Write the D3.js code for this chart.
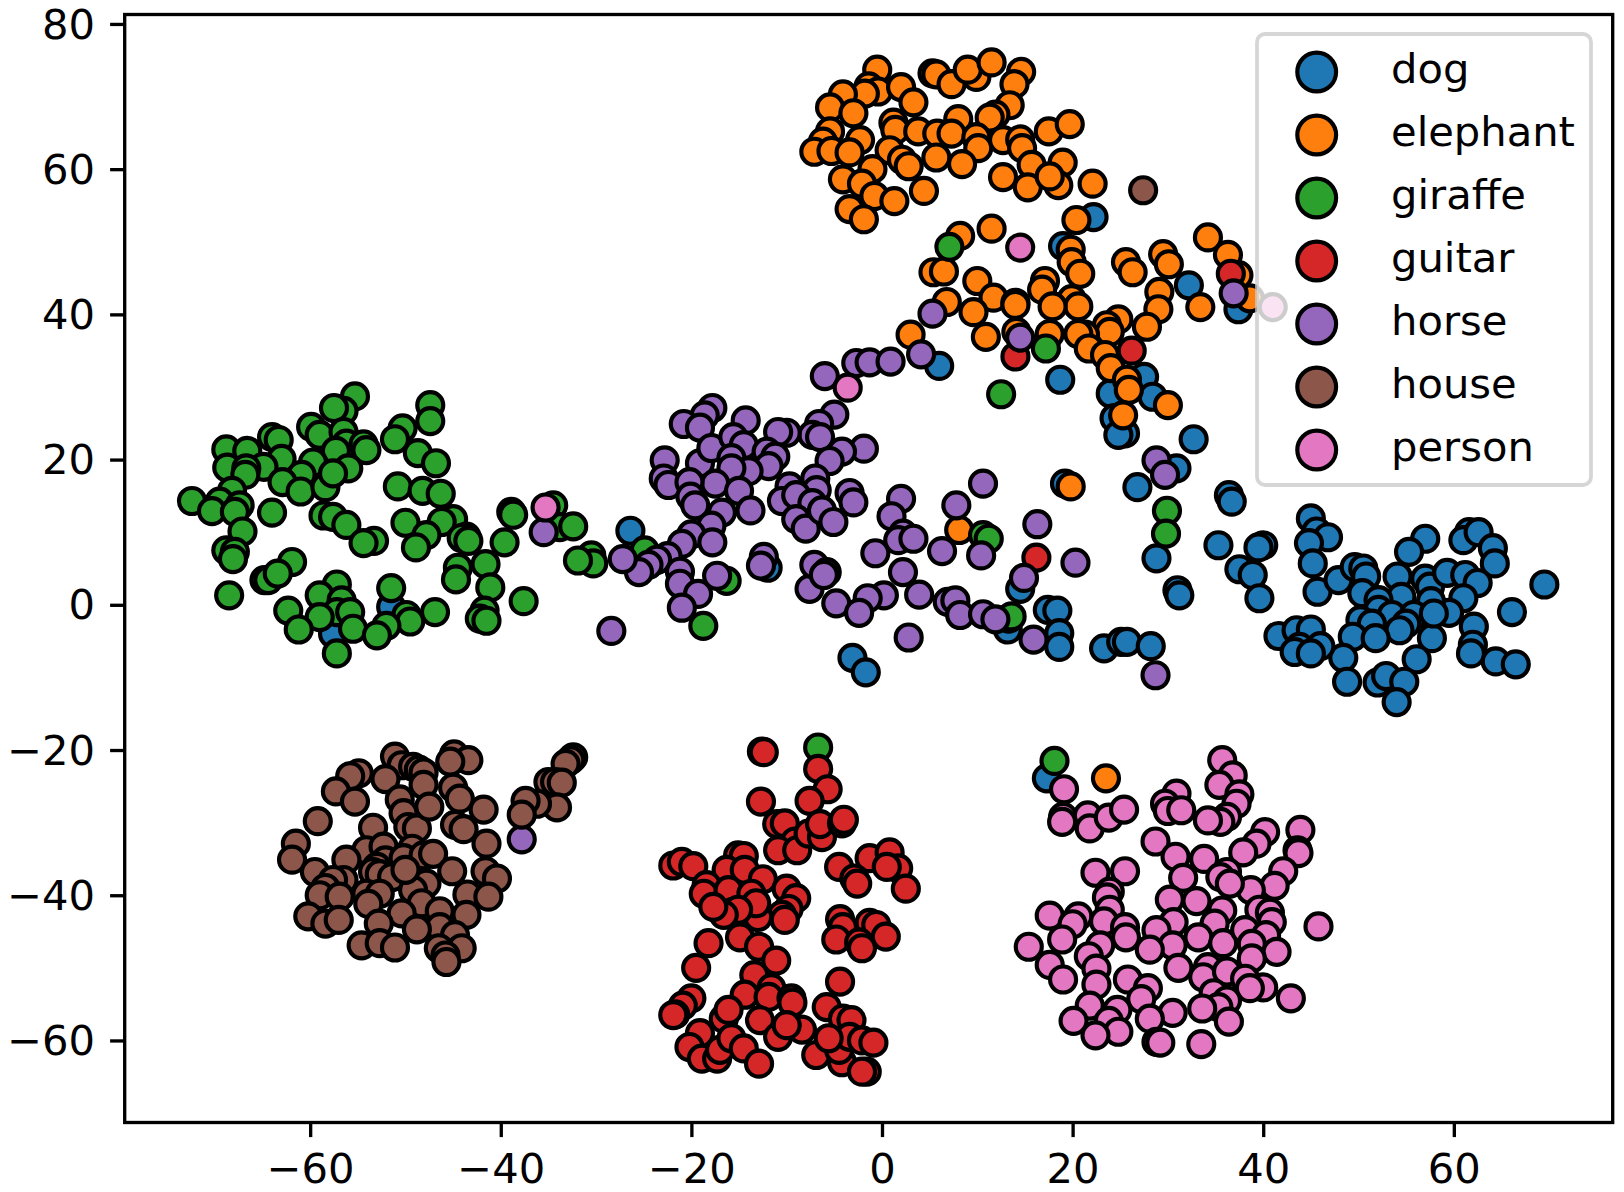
<!DOCTYPE html>
<html>
<head>
<meta charset="utf-8">
<script src="https://cdn.jsdelivr.net/npm/d3@7/dist/d3.min.js"></script>
<style>
	html, body { margin: 0; padding: 0; background: #fff; }
	svg { display: block; font-family: "DejaVu Sans", sans-serif; }
</style>
</head>
<body>
<svg id="chart" width="1624" height="1192"></svg>
<script>
"use strict"

var categories = ["dog", "elephant", "giraffe", "guitar", "horse", "house", "person"];
var colours = ["#1f77b4", "#ff7f0e", "#2ca02c", "#d62728", "#9467bd", "#8c564b", "#e377c2"];
var xTicks = [-60, -40, -20, 0, 20, 40, 60];
var yTicks = [-60, -40, -20, 0, 20, 40, 60, 80];

// [x, y], one list per class
var dog = [[22.2,53.4],[19,49.4],[32.2,44],[37.4,40.7],[27.5,31.4],[18.7,31],[28.4,28.65],[24,29.1],[24.4,25.7],[25.5,23.6],[24.8,23.4],
	[32.7,22.8],[30.9,18.8],[26.8,16.2],[36.4,15.1],[36.7,14.2],[19.2,16.7],[45,11.9],[45.6,10.1],[46.8,9.3],[44.8,8.5],[45.2,5.7],[45.7,1.8],
	[57,9.1],[55.3,7.3],[35.3,8.2],[40,8.2],[39.5,7.9],[28.8,6.4],[37.5,4.9],[38.9,4.1],[39.6,0.9],[31,2],[31.2,1.3],[69.5,2.8],[66.1,-1],
	[61.6,10],[61,8.9],[62.6,10],[64.1,7.8],[64.3,5.7],[47.9,3.4],[49.6,5.2],[50.5,5],[50.8,3.9],[50.4,1.6],[54.1,3.9],[57,3.6],[57.5,2.5],
	[59.3,4.4],[61.2,4.1],[62.5,3],[61,0.9],[59.5,-1.1],[57.6,0.5],[54.5,1.1],[52.1,0.65],[52.1,-0.7],[53.5,-1.4],[55.8,-1.4],[55,-2.6],[54.3,-3.5],
	[50.2,-2.1],[51.4,-2.6],[49.4,-4.4],[51.8,-4.6],[57.7,-4.6],[57.9,-1.2],[62.1,-3],[62,-5.5],[61.8,-6.7],[64.4,-7.8],[66.5,-8.2],[56.1,-7.5],
	[48.4,-7.3],[48.8,-10.6],[52,-10.7],[52.9,-9.8],[54.8,-10.6],[54,-13.4],[41.6,-4.3],[43.5,-3.5],[45,-3.4],[46,-5.7],[43.8,-5.8],[43.3,-6.5],[45,-6.7],
	[17.4,-0.7],[18.4,-0.8],[18.6,-3.9],[18.6,-5.8],[13.2,-3.4],[23.3,-6],[25.1,-5.1],[25.7,-5.1],[28.2,-5.7],[14.5,2.2],
	[-57.6,-4],[-51.5,-0.3],[-26.4,10.2],[-3.1,-7.3],[-1.7,-9.3],[6,32.9],[17.3,-23.9],[-12,5.1]];
var elephant = [[-0.5,73.7],[-1.4,71.4],[-0.4,70.7],[-1.8,70.4],[-4.1,70.3],[-5.45,68.5],[-3,67.7],[2,71.3],[3.3,69.2],[5.3,73.2],[5.7,73.05],[7.3,71.7],
	[9.9,72.7],[9,73.7],[11.5,74.7],[14.6,73.4],[13.9,71.7],[13.4,68.8],[11.9,67.5],[11.3,67.1],[8,66.9],[1.2,66.4],[1.4,65.4],[3.8,65.2],[5.8,64.9],
	[7.3,64.9],[9.9,64.4],[10.1,62.9],[12.7,64],[14.5,64.1],[14.7,62.9],[17.5,65.2],[19.7,66.2],[-5.45,65.2],[-6.2,63.8],[-2.3,64],[-7.1,62.4],[-5.3,62.5],
	[-3.4,62.3],[0.8,62.6],[2.1,61.3],[2.8,60.4],[5.7,61.6],[8.4,60.7],[15.7,60.6],[18.96,60.9],[12.7,58.9],[15.3,57.5],[18.5,57.8],[17.6,59],[22.1,58],
	[-1,60],[-4.1,58.6],[-2.1,58],[-0.8,56.3],[1.3,55.6],[4.4,57],[-3.4,54.5],[-1.9,53.1],[20.4,53],[8.2,50.8],[11.5,51.8],[19.8,48.9],[19.9,47.2],[20.8,45.6],
	[25.6,47.2],[26.3,45.8],[29.5,48.3],[30.1,46.9],[34.2,50.6],[36.3,48.2],[37.4,45.4],[38.6,42.2],[5.4,45.8],[6.5,45.9],[10,44.6],[11.7,42.3],[17.1,44.6],
	[16.8,43.4],[19.9,42.1],[20.6,41.1],[17.9,41.1],[14,41.6],[14,41.3],[6.8,41.7],[9.6,40.3],[10.9,36.9],[3,37.2],[29.1,43.1],[29,40.7],[33.4,41],[27.8,38.3],
	[24.8,39.3],[23.6,38.5],[23.9,37.6],[21.3,37.2],[20.6,37.3],[14.1,37.6],[17.6,37.3],[21.7,35.3],[23.4,34.4],[24,32.6],[25.7,31],[25.9,29.6],[30,27.5],
	[25.3,26.1],[19.8,16.3],[8.1,10.3],[23.5,-23.9]];
var giraffe = [[-55.3,28.7],[-56.5,26.7],[-57.5,27.1],[-47.4,27.5],[-47.4,25.3],[-50.3,24.3],[-51.1,22.8],[-59.9,24.5],[-59,23.4],[-56.5,23.8],[-64,23.1],[-63.3,22.7],
	[-68.8,21.4],[-66.6,21.2],[-63,20.1],[-64.9,19],[-68.7,18.9],[-66.7,18.8],[-66.8,17.9],[-56.2,22.2],[-54.4,22.1],[-54.1,21.3],[-57.3,21.2],[-59.7,19.6],
	[-56,18.8],[-48.7,20.9],[-46.8,19.5],[-60.9,17.9],[-62.9,16.9],[-61,15.6],[-58.4,16.2],[-57.6,18.1],[-50.8,16.3],[-48.2,15.7],[-46.3,15.3],[-68.2,15.7],
	[-69.5,14.2],[-72.4,14.3],[-70.3,12.9],[-67.4,13.7],[-67.9,12.8],[-64,12.7],[-67.1,10.1],[-58.6,12.3],[-57.6,12.1],[-56.2,11],[-53.3,8.8],[-54.4,8.5],
	[-50,11.3],[-45,11.8],[-46.2,11.4],[-47.8,9.6],[-48.9,7.9],[-43.6,9.4],[-44.1,9.2],[-43.4,8.8],[-38.9,12.8],[-38.7,12.4],[-39.6,8.6],[-41.6,5.6],[-44.5,5.1],
	[-44.7,3.5],[-41.1,2.4],[-37.6,0.5],[-41.7,-0.8],[-42.2,-1.9],[-41.5,-2.2],[-68.8,7.5],[-67.9,7.3],[-68.1,6.3],[-68.5,1.3],[-61.9,5.9],[-64.8,3.4],[-64.4,3.4],
	[-63.4,4.3],[-57.2,2.8],[-59,1.3],[-56.7,0.6],[-57.2,-1],[-59,-1.7],[-55.8,-1],[-62.3,-0.8],[-61.2,-3.4],[-55.5,-3.3],[-51.5,2.3],[-49.9,-1.4],[-49.5,-2.3],
	[-46.9,-1],[-52,-2.9],[-53,-4.2],[-57.2,-6.7],[-34.5,13.7],[-33.8,10.7],[-32.4,10.8],[-30.5,6.8],[-30.3,5.7],[-31.9,6.1],[-24.9,7.5],[-16.3,3.3],[-18.75,-2.9],
	[12.5,29],[17.2,35.3],[10.6,9.6],[11.2,9.1],[13.3,-1.9],[13.6,-1.6],[7.07,49.3],[29.9,12.95],[29.8,9.8],[18.1,-21.5],[-6.7,-19.65]];
var guitar = [[26.2,35],[14,34.2],[36.6,45.6],[16.2,6.5],[-12.6,-20.2],[-12.4,-20.3],[-6.7,-22.6],[-5.7,-25.4],[-7.6,-27],[-12.7,-27.1],[-11,-30.2],[-10.2,-30.1],[-9.1,-32.6],
	[-10.9,-33.8],[-8.9,-33.8],[-7.7,-31.5],[-6.3,-32],[-6.5,-30.2],[-4.2,-30.1],[-4,-29.6],[-21.9,-35.9],[-21,-35.4],[-19.8,-36],[-15.1,-34.5],[-14.5,-34.6],[-16.3,-36.5],
	[-14.4,-36.5],[-12.5,-37.8],[-18.4,-38.6],[-18.7,-39.8],[-16.1,-39.3],[-13.7,-39.8],[-10,-39.1],[-9,-40.4],[-9.8,-41.9],[-10.5,-42.7],[-10.2,-43.4],[-13,-43],[-13.2,-41.1],
	[-15.6,-42.3],[-15.1,-42],[-16.6,-42.7],[-17.7,-41.6],[-4.5,-36.1],[-1.3,-34.9],[0.8,-34.1],[1.7,-36.3],[0.5,-36.1],[2.5,-39.1],[-2.9,-37.7],[-2.6,-38.4],[-4.4,-43.3],
	[-4.1,-44.4],[-4.8,-46.1],[-1.3,-43.8],[-0.6,-44.1],[0.4,-45.7],[-2.4,-46.5],[-2.1,-47.3],[-14.9,-45.8],[-12.9,-47.1],[-11.1,-49],[-18.2,-46.6],[-19.5,-50],[-13.4,-51],
	[-11.6,-52.8],[-4.4,-51.9],[-14.4,-53.7],[-11.9,-54],[-9.5,-54.2],[-9.4,-54.8],[-20,-54.2],[-20.9,-55.2],[-21.7,-56.4],[-21.9,-56.5],[-5.8,-55.4],[-4.1,-57],[-3.2,-57.2],
	[-16.6,-57],[-16.1,-55.8],[-12.8,-57.2],[-10.9,-59.5],[-8.4,-58.5],[-10,-57.9],[-19.1,-59],[-20.2,-60.9],[-18.9,-62.5],[-17.3,-62.5],[-17,-61.3],[-15.8,-59.7],[-14.5,-61.1],
	[-12.9,-63.2],[-6.9,-62],[-4.2,-63],[-4.5,-61.3],[-3.4,-59.5],[-2.1,-60],[-0.9,-60.3],[-5.6,-59.7],[-1.6,-64.3],[-2.1,-64.3]];
var horse = [[-6,31.5],[-2.7,33.3],[-1.3,33.4],[0.9,33.5],[4.1,34.5],[5.3,40.1],[14.5,36.8],[36.9,42.9],[-5,26.2],[-6.6,24.9],[-7.3,23.4],[-6.5,23.1],[-1.9,21.5],[-4.2,21.1],
	[-5.5,19.8],[-10,23.7],[-10.9,23.8],[-14.3,25.4],[-17.8,27.1],[-18.6,26.1],[-20.8,24.9],[-19.1,24.4],[-22.8,19.9],[-22.9,17.4],[-22.4,16.5],[-19.1,19.5],[-17.9,21.6],
	[-15.6,23.1],[-14.5,22],[-15.8,20.2],[-12.1,21.1],[-11.2,20.4],[-11.9,19.1],[-14,18.4],[-15.8,18.8],[-17.5,16.7],[-20.2,16.9],[-20.1,14.9],[-19.6,13.7],[-15,15.7],[-13.8,13],
	[-16.8,12.7],[-17.9,10.9],[-20,9.7],[-21,8.4],[-17.8,8.6],[-22.5,6.7],[-23.6,6.2],[-24.5,5.5],[-25.5,4.5],[-27.2,6.3],[-21.2,4.55],[-21.2,2.9],[-19.3,1.5],[-17.3,4],[-21,-0.4],
	[-28.4,-3.6],[-9.7,16.3],[-7,17.4],[-6.85,15.8],[-10.5,14.3],[-9,15.1],[-7.3,14],[-9,11.8],[-8,10.5],[-6.3,13],[-5.1,11.4],[-3.4,15.4],[-3,14.1],[2,14.6],[1,12.2],[2.2,9.8],
	[1.7,8.9],[3.3,9.1],[-0.7,7.1],[6.3,7.4],[7.8,13.7],[10.6,16.7],[10.4,6.8],[16.3,11.1],[20.3,5.8],[14.9,3.7],[2.2,4.5],[3.9,1.4],[0.2,1.3],[-1.5,0.9],[-4.8,0.2],[-2.4,-1.1],
	[-7.6,2.2],[-7.1,5.5],[-5.8,4.5],[-6.1,4.1],[6.9,0.4],[7.7,0.6],[8.2,-1.4],[10.6,-1.3],[11.9,-2],[15.9,-4.8],[2.8,-4.5],[28.8,19.9],[29.7,17.9],[28.7,-9.7],[-37.8,-32.3],
	[-35.5,10],[-12.4,6.6],[-12.7,5.4]];
var house = [[27.4,57.1],[-51.1,-20.9],[-50.4,-22.1],[-49.2,-22.3],[-48.6,-22.7],[-48.1,-23.1],[-48.1,-24.8],[-44.9,-20.6],[-43.4,-21.4],[-45.3,-21.6],[-54.9,-23.2],[-55.8,-23.6],
	[-57.3,-25.7],[-55.3,-27.1],[-52.1,-24],[-50.6,-26.8],[-50.2,-28.7],[-49.7,-30.6],[-48.8,-30.8],[-47.5,-27.8],[-45,-25.2],[-44.3,-26.7],[-41.8,-28.2],[-44.8,-30.3],[-43.9,-30.9],
	[-41.5,-32.9],[-59.2,-29.8],[-61.5,-32.9],[-61.9,-35.1],[-59.5,-36.8],[-53.4,-30.7],[-54.1,-33.8],[-52.3,-33.3],[-52.1,-35.2],[-56.2,-35.1],[-53,-36.1],[-53.4,-36.8],[-52.7,-37.1],
	[-51.4,-37.5],[-49.3,-33.6],[-50.2,-34.9],[-48.1,-34.5],[-47.1,-34.3],[-45.1,-36.7],[-41.6,-36.7],[-40.4,-37.7],[-47.8,-38.4],[-49.2,-39.3],[-50,-36.5],[-56.5,-37.9],[-57.6,-37.9],
	[-58.4,-39],[-59,-40],[-56.9,-40.2],[-54.1,-39.8],[-52.7,-39.8],[-53.9,-41.2],[-43.5,-39.9],[-41.3,-40.2],[-43.6,-42.7],[-48.3,-41.1],[-46.4,-42.2],[-50.4,-42.5],[-46.4,-44.4],
	[-60.2,-42.9],[-58.4,-43.9],[-57,-43.4],[-52.8,-43.9],[-48.8,-44.7],[-54.6,-46.9],[-52.7,-46.6],[-51.1,-47.2],[-44.8,-45.5],[-44.1,-47.3],[-46.5,-47.3],[-45.8,-48.3],[-45.7,-49.2],
	[-32.4,-21],[-32.7,-21.4],[-33.2,-21.9],[-35,-24.4],[-34.3,-24.4],[-33.6,-24.5],[-34.1,-27.9],[-36.2,-27.4],[-37.4,-27],[-37.8,-28.9]];
var person = [[14.5,49.2],[41,41],[-3.6,29.9],[-35.3,13.4],[35.7,-21.4],[36.8,-23.5],[35.4,-24.8],[37.5,-26.1],[37.2,-27.4],[36.2,-29.2],[35.5,-29.9],[34.2,-29.7],[30.9,-26],[29.7,-27.4],
	[30,-28.4],[31.4,-28.3],[19.1,-25.4],[19,-29.2],[18.9,-29.9],[21.6,-29],[21.8,-30.8],[23.8,-29.3],[25.4,-28.2],[28.7,-32.6],[30.8,-34.7],[33.8,-35],[31.6,-37.6],[40.2,-31.3],[39.3,-32.9],
	[37.9,-34.1],[43.9,-31],[43.6,-33.8],[43.7,-34.2],[42.1,-36.7],[41.2,-38.7],[38.7,-39.3],[36.2,-36.8],[35.5,-37.5],[36.5,-38.4],[22.4,-36.9],[25.5,-36.7],[23.9,-39.5],[23.6,-40.3],[23.9,-42],
	[30.2,-40.6],[33,-40.8],[35.7,-42.1],[39.6,-42],[40.7,-42.4],[40.9,-43.7],[45.8,-44.3],[17.6,-42.8],[20.6,-42.9],[20,-44],[23.3,-43.6],[25.5,-44.4],[25.6,-45.8],[18.9,-46.1],[22.9,-46.9],
	[30.6,-43.7],[28.8,-44.8],[34.9,-43.9],[33.2,-45.8],[35.8,-46.6],[38.1,-44.8],[40.3,-45.5],[38.8,-46.7],[41.4,-47.8],[30.5,-46.9],[28.1,-47.5],[15.4,-47.1],[17.6,-49.6],[21.7,-48.4],[22.5,-50.1],
	[31.1,-50],[34.2,-49.9],[33.7,-51.3],[36.2,-50.5],[38.8,-48.7],[19,-51.6],[22.5,-52.3],[25.8,-51.6],[27.9,-52.8],[27.2,-54.3],[38.1,-51.5],[40,-52.7],[38.6,-52.8],[42.9,-54.2],[34.8,-53.5],
	[36.2,-54.5],[35.3,-55.4],[33.6,-55.6],[36.4,-57.4],[21.8,-55.2],[30.5,-56.2],[28.1,-57],[24.7,-55.8],[20.1,-57.3],[23.8,-57.3],[24.8,-58.8],[22.4,-59.3],[28.8,-60.2],[29.2,-60.3],[33.5,-60.5]];
var classPoints = [dog, elephant, giraffe, guitar, horse, house, person];

var left = 124.7, right = 1612.7, top_ = 14.5, bottom = 1122.5;
var fontSize = 41.67;

var x = d3.scaleLinear().domain([-79.46, 76.67]).range([left, right]);
var y = d3.scaleLinear().domain([-71.3, 81.3]).range([bottom, top_]);

var svg = d3.select("#chart");

// same minus sign as the reference
var fmt = function(d) { return String(d).replace("-", "\u2212"); };

var xAxis = svg.append("g")
	.attr("transform", "translate(0," + bottom + ")")
	.call(d3.axisBottom(x).tickValues(xTicks).tickFormat(fmt).tickSize(14.6).tickPadding(16));
var yAxis = svg.append("g")
	.attr("transform", "translate(" + left + ",0)")
	.call(d3.axisLeft(y).tickValues(yTicks).tickFormat(fmt).tickSize(14.6).tickPadding(15));
[xAxis, yAxis].forEach(function(a) {
	a.select(".domain").remove();
	a.selectAll("line").attr("stroke", "#000").attr("stroke-width", 3.33);
	a.selectAll("text").attr("fill", "#000").style("font-size", fontSize + "px").style("font-family", '"DejaVu Sans"');
});
yAxis.selectAll("text").attr("dy", "0.34em");

// one group per class, drawn in class order so later classes sit on top
classPoints.forEach(function(pts, i) {
	svg.append("g").selectAll("circle")
		.data(pts)
		.enter().append("circle")
		.attr("cx", function(d) { return x(d[0]); })
		.attr("cy", function(d) { return y(d[1]); })
		.attr("r", 13)
		.attr("fill", colours[i])
		.attr("stroke", "#000")
		.attr("stroke-width", 4.17);
});

svg.append("rect")
	.attr("x", left).attr("y", top_)
	.attr("width", right - left).attr("height", bottom - top_)
	.attr("fill", "none").attr("stroke", "#000").attr("stroke-width", 3.33);

// legend
var legendLeft = 1257, legendTop = 34, legendWidth = 334, legendHeight = 451;
var legend = svg.append("g");
legend.append("rect")
	.attr("x", legendLeft).attr("y", legendTop)
	.attr("width", legendWidth).attr("height", legendHeight)
	.attr("rx", 8).attr("ry", 8)
	.attr("fill", "#fff").attr("fill-opacity", 0.8)
	.attr("stroke", "#ccc").attr("stroke-opacity", 0.8).attr("stroke-width", 3.8);

var rowY = d3.scalePoint().domain(categories).range([72, 450]);
categories.forEach(function(name, i) {
	legend.append("circle")
		.attr("cx", 1316.7)
		.attr("cy", rowY(name))
		.attr("r", 19.4)
		.attr("fill", colours[i])
		.attr("stroke", "#000")
		.attr("stroke-width", 4.17);
	legend.append("text")
		.attr("x", 1391)
		.attr("y", rowY(name) + 11)
		.attr("fill", "#000")
		.style("font-size", fontSize + "px")
		.text(name);
});
</script>
</body>
</html>
